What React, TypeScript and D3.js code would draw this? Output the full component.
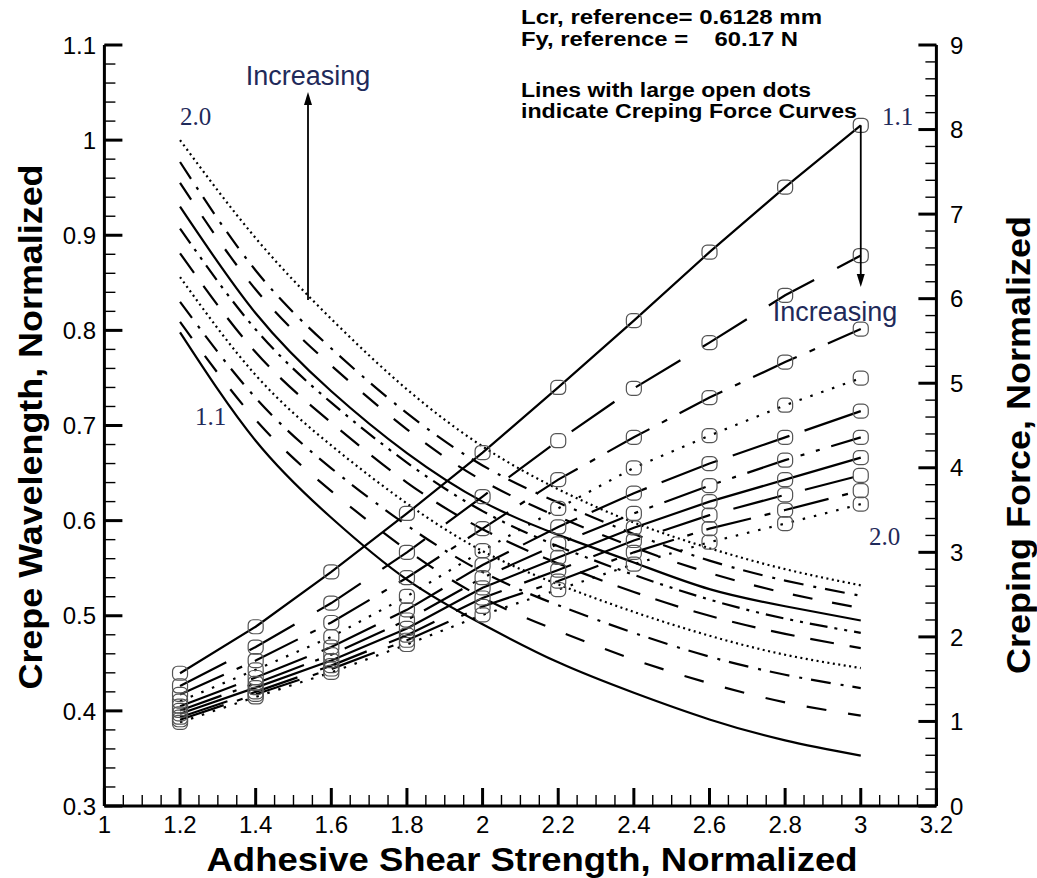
import React from "react";
import * as d3 from "d3";

// Adhesive shear strength (normalized) at which every curve is evaluated
const shearStrength = [1.2, 1.4, 1.6, 1.8, 2.0, 2.2, 2.4, 2.6, 2.8, 3.0];

// Crepe wavelength (normalized), one array per parameter value 1.1 ... 2.0
const wavelength_1_1 = [0.798, 0.684, 0.603, 0.538, 0.491, 0.451, 0.419, 0.391, 0.369, 0.353];
const wavelength_1_2 = [0.809, 0.706, 0.631, 0.569, 0.519, 0.484, 0.454, 0.429, 0.409, 0.395];
const wavelength_1_3 = [0.830, 0.729, 0.655, 0.595, 0.546, 0.511, 0.482, 0.457, 0.438, 0.424];
const wavelength_1_4 = [0.856, 0.753, 0.679, 0.618, 0.568, 0.533, 0.504, 0.479, 0.459, 0.445];
const wavelength_1_5 = [0.881, 0.777, 0.703, 0.640, 0.591, 0.555, 0.525, 0.500, 0.481, 0.466];
const wavelength_1_6 = [0.907, 0.801, 0.724, 0.661, 0.610, 0.573, 0.543, 0.517, 0.497, 0.482];
const wavelength_1_7 = [0.930, 0.818, 0.736, 0.671, 0.620, 0.585, 0.556, 0.528, 0.510, 0.495];
const wavelength_1_8 = [0.955, 0.843, 0.763, 0.696, 0.642, 0.604, 0.572, 0.545, 0.524, 0.508];
const wavelength_1_9 = [0.977, 0.863, 0.781, 0.713, 0.658, 0.619, 0.586, 0.558, 0.537, 0.521];
const wavelength_2_0 = [1.000, 0.897, 0.812, 0.738, 0.678, 0.633, 0.598, 0.571, 0.549, 0.532];

// Creping force (normalized), one array per parameter value 1.1 ... 2.0
const force_1_1 = [1.57, 2.12, 2.77, 3.46, 4.18, 4.95, 5.74, 6.55, 7.32, 8.05];
const force_1_2 = [1.42, 1.88, 2.40, 3.00, 3.66, 4.32, 4.94, 5.48, 6.04, 6.51];
const force_1_3 = [1.32, 1.72, 2.17, 2.70, 3.28, 3.86, 4.36, 4.83, 5.25, 5.64];
const force_1_4 = [1.24, 1.61, 2.00, 2.48, 3.02, 3.52, 4.00, 4.38, 4.74, 5.06];
const force_1_5 = [1.18, 1.52, 1.88, 2.32, 2.85, 3.30, 3.70, 4.05, 4.36, 4.67];
const force_1_6 = [1.13, 1.45, 1.79, 2.20, 2.70, 3.10, 3.46, 3.79, 4.09, 4.36];
const force_1_7 = [1.09, 1.40, 1.72, 2.10, 2.58, 2.94, 3.29, 3.60, 3.86, 4.12];
const force_1_8 = [1.05, 1.35, 1.66, 2.02, 2.46, 2.79, 3.14, 3.44, 3.68, 3.91];
const force_1_9 = [1.02, 1.32, 1.62, 1.96, 2.36, 2.66, 3.00, 3.28, 3.50, 3.73];
const force_2_0 = [0.99, 1.29, 1.58, 1.91, 2.26, 2.56, 2.86, 3.12, 3.34, 3.57];

const wavelengthSeries = [
  wavelength_1_1, wavelength_1_2, wavelength_1_3, wavelength_1_4, wavelength_1_5,
  wavelength_1_6, wavelength_1_7, wavelength_1_8, wavelength_1_9, wavelength_2_0,
];
const forceSeries = [
  force_1_1, force_1_2, force_1_3, force_1_4, force_1_5,
  force_1_6, force_1_7, force_1_8, force_1_9, force_2_0,
];

// Axis tick labels
const xTickLabels = ["1", "1.2", "1.4", "1.6", "1.8", "2", "2.2", "2.4", "2.6", "2.8", "3", "3.2"];
const leftTickLabels = ["0.3", "0.4", "0.5", "0.6", "0.7", "0.8", "0.9", "1", "1.1"];
const rightTickLabels = ["0", "1", "2", "3", "4", "5", "6", "7", "8", "9"];

// Line patterns cycle: solid, dashed, dash-dot, dotted, long dash, dash-dot-dot
const wavelengthDash = [
  "none", "20,22", "20,10,3,9", "2,3.5", "24,16", "18,7,3,7,3,7",
  "none", "20,20", "20,10,3,9", "2,3.5",
];
const forceDash = [
  "none", "52,26", "48,14,6,14", "2.5,9", "60,16", "44,12,4,12,4,12",
  "none", "50,24", "46,14,6,14", "2.5,9",
];

const W = 1037;
const H = 878;
const x = d3.scaleLinear().domain([1, 3.2]).range([104.4, 936.4]);
const yL = d3.scaleLinear().domain([0.3, 1.1]).range([806, 45]);
const yR = d3.scaleLinear().domain([0, 9]).range([806, 45]);

const sans = "'Liberation Sans', Arial, Helvetica, sans-serif";
const serif = "'Liberation Serif', 'Times New Roman', serif";
const navy = "#1f2a5a";

const smoothLine = d3
  .line<number>()
  .x((_, i) => x(shearStrength[i]))
  .y((d) => yL(d))
  .curve(d3.curveNatural);

const forceLine = d3
  .line<number>()
  .x((_, i) => x(shearStrength[i]))
  .y((d) => yR(d));

const xMinor = d3.range(1, 3.2001, 0.05);
const leftMinor = d3.range(0.3, 1.1001, 0.02);
const rightMinor = d3.range(0, 9.0001, 0.2);

export default function App() {
  const axisBottom = yL(0.3);
  const axisLeft = x(1);
  const axisRight = x(3.2);
  return (
    <svg
      width={W}
      height={H}
      viewBox={`0 0 ${W} ${H}`}
      style={{ position: "absolute", left: 0, top: 0, background: "#fff" }}
    >
      <rect x={0} y={0} width={W} height={H} fill="#fff" />

      {/* crepe wavelength curves */}
      <g fill="none" stroke="#000" strokeWidth={2.2} strokeLinecap="butt">
        {wavelengthSeries.map((s, i) => (
          <path
            key={`wl${i}`}
            d={smoothLine(s) || ""}
            strokeDasharray={wavelengthDash[i]}
          />
        ))}
      </g>

      {/* creping force curves */}
      <g fill="none" stroke="#000" strokeWidth={2.2}>
        {forceSeries.map((s, i) => (
          <path key={`f${i}`} d={forceLine(s) || ""} strokeDasharray={forceDash[i]} />
        ))}
      </g>

      {/* open markers on the force curves */}
      <g fill="none" stroke="#555" strokeWidth={1.2}>
        {forceSeries.map((s, i) =>
          s.map((v, j) => (
            <rect
              key={`m${i}-${j}`}
              x={x(shearStrength[j]) - 7.5}
              y={yR(v) - 7}
              width={15}
              height={14}
              rx={5}
            />
          ))
        )}
      </g>

      {/* axes */}
      <g stroke="#000">
        <line x1={axisLeft} x2={axisRight} y1={axisBottom} y2={axisBottom} strokeWidth={3} />
        <line x1={axisLeft} x2={axisLeft} y1={yL(1.1)} y2={axisBottom} strokeWidth={3} />
        <line x1={axisRight} x2={axisRight} y1={yR(9)} y2={axisBottom} strokeWidth={3} />

        {xMinor.map((v, i) => (
          <line key={`xm${i}`} x1={x(v)} x2={x(v)} y1={axisBottom} y2={axisBottom - 11} strokeWidth={1.4} />
        ))}
        {xTickLabels.map((t) => (
          <line key={`xM${t}`} x1={x(+t)} x2={x(+t)} y1={axisBottom} y2={axisBottom - 18} strokeWidth={3} />
        ))}

        {leftMinor.map((v, i) => (
          <line key={`lm${i}`} x1={axisLeft} x2={axisLeft + 11} y1={yL(v)} y2={yL(v)} strokeWidth={1.4} />
        ))}
        {leftTickLabels.map((t) => (
          <line key={`lM${t}`} x1={axisLeft} x2={axisLeft + 18} y1={yL(+t)} y2={yL(+t)} strokeWidth={3} />
        ))}

        {rightMinor.map((v, i) => (
          <line key={`rm${i}`} x1={axisRight} x2={axisRight - 11} y1={yR(v)} y2={yR(v)} strokeWidth={1.4} />
        ))}
        {rightTickLabels.map((t) => (
          <line key={`rM${t}`} x1={axisRight} x2={axisRight - 18} y1={yR(+t)} y2={yR(+t)} strokeWidth={3} />
        ))}
      </g>

      {/* tick labels */}
      <g fontFamily={sans} fontSize={24} fill="#000">
        {xTickLabels.map((t) => (
          <text key={`xl${t}`} x={x(+t)} y={833} textAnchor="middle">
            {t}
          </text>
        ))}
        {leftTickLabels.map((t) => (
          <text key={`ll${t}`} x={96} y={yL(+t)} dy="0.36em" textAnchor="end">
            {t}
          </text>
        ))}
        {rightTickLabels.map((t) => (
          <text key={`rl${t}`} x={950} y={yR(+t)} dy="0.36em" textAnchor="start">
            {t}
          </text>
        ))}
      </g>

      {/* axis titles */}
      <g fontFamily={sans} fontWeight="bold" fontSize={34} fill="#000">
        <text x={532} y={871} textAnchor="middle" textLength={651} lengthAdjust="spacingAndGlyphs">
          Adhesive Shear Strength, Normalized
        </text>
        <text
          transform="translate(42,427) rotate(-90)"
          textAnchor="middle"
          textLength={525}
          lengthAdjust="spacingAndGlyphs"
        >
          Crepe Wavelength, Normalized
        </text>
        <text
          transform="translate(1030,445) rotate(-90)"
          textAnchor="middle"
          textLength={458}
          lengthAdjust="spacingAndGlyphs"
        >
          Creping Force, Normalized
        </text>
      </g>

      {/* reference values and note */}
      <g fontFamily={sans} fontWeight="bold" fontSize={20} fill="#000">
        <text x={521} y={24} textLength={301} lengthAdjust="spacingAndGlyphs">
          Lcr, reference= 0.6128 mm
        </text>
        <text
          x={521}
          y={46}
          textLength={277}
          lengthAdjust="spacingAndGlyphs"
          xmlSpace="preserve"
          style={{ whiteSpace: "pre" }}
        >
          {"Fy, reference =    60.17 N"}
        </text>
        <text x={521} y={97} textLength={290} lengthAdjust="spacingAndGlyphs">
          Lines with large open dots
        </text>
        <text x={521} y={118} textLength={336} lengthAdjust="spacingAndGlyphs">
          indicate Creping Force Curves
        </text>
      </g>

      {/* increasing-parameter arrows */}
      <g stroke="#000" strokeWidth={1.8} fill="#000">
        <line x1={308} x2={308} y1={300} y2={100} />
        <polygon points="308,92 304,105 312,105" stroke="none" />
        <line x1={x(3)} x2={x(3)} y1={yR(8.05)} y2={278} />
        <polygon points={`${x(3)},287 ${x(3) - 4},274 ${x(3) + 4},274`} stroke="none" />
      </g>
      <g fontFamily={sans} fontSize={27} fill={navy}>
        <text x={308} y={85} textAnchor="middle">Increasing</text>
        <text x={835} y={321} textAnchor="middle">Increasing</text>
      </g>

      {/* parameter labels at the ends of the curve families */}
      <g fontFamily={serif} fontSize={25} fill={navy}>
        <text x={180} y={125}>2.0</text>
        <text x={195} y={425}>1.1</text>
        <text x={882} y={125}>1.1</text>
        <text x={869} y={545}>2.0</text>
      </g>
    </svg>
  );
}
